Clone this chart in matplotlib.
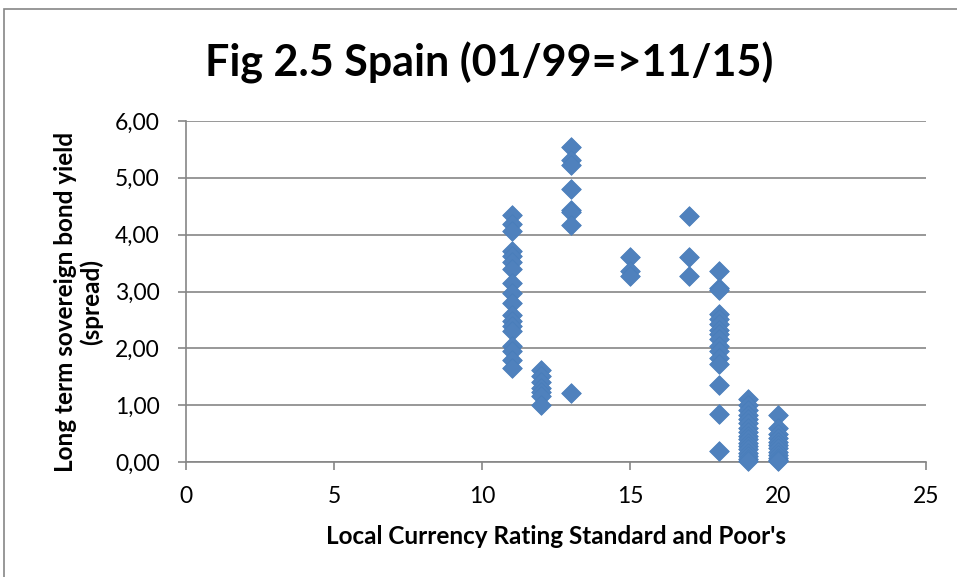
import matplotlib as mpl
import matplotlib.pyplot as plt
from matplotlib.patches import Rectangle

mpl.rcParams.update({
    "font.family": ["Lato", "DejaVu Sans"],
})

# rating (S&P local currency) -> spread values
R11 = [4.35, 4.18, 4.07, 3.72, 3.63, 3.52, 3.39, 3.15, 2.98, 2.80,
       2.58, 2.48, 2.39, 2.30, 2.04, 1.95, 1.80, 1.66]
R12 = [1.62, 1.51, 1.40, 1.31, 1.23, 1.16, 1.00]
R13 = [5.55, 5.31, 5.22, 4.80, 4.44, 4.40, 4.17, 1.21]
R15 = [3.60, 3.36, 3.27]
R17 = [4.33, 3.60, 3.27]
R18 = [3.36, 3.07, 3.03, 2.60, 2.51, 2.42, 2.33, 2.25, 2.16, 2.04,
       1.95, 1.83, 1.72, 1.36, 0.84, 0.19]
R19 = [1.10, 1.00, 0.92, 0.82, 0.75, 0.69, 0.60, 0.52, 0.45, 0.40,
       0.34, 0.28, 0.22, 0.16, 0.10, 0.05, 0.02]
R20 = [0.82, 0.60, 0.50, 0.42, 0.35, 0.30, 0.24, 0.18, 0.12, 0.07,
       0.03, 0.01]
RATINGS = [11, 12, 13, 15, 17, 18, 19, 20]
SPREADS = [R11, R12, R13, R15, R17, R18, R19, R20]

xs, ys = [], []
for r, vals in zip(RATINGS, SPREADS):
    xs += [r] * len(vals)
    ys += vals

fig = plt.figure(figsize=(9.57, 5.77), dpi=100)
ax = fig.add_axes([186 / 957, 1 - 462 / 577, 740 / 957, 341 / 577])

# outer chart frame (Excel style)
fig.patches.append(Rectangle((4 / 957, -0.1), 1.2, 1 - 9 / 577 + 0.1,
                             transform=fig.transFigure, fill=False,
                             ec="#868686", lw=1.2))

ax.scatter(xs, ys, marker="D", s=100, color="#4F81BD", edgecolor="#4A7EBB",
           linewidth=0.6, zorder=3, clip_on=False)

ax.set_xlim(0, 25)
ax.set_ylim(0, 6)
ax.set_xticks(range(0, 26, 5))
ax.set_yticks(range(0, 7))
ax.set_yticklabels([f"{v:.2f}".replace(".", ",") for v in range(0, 7)])
ax.grid(axis="y", color="#868686", lw=1.2, zorder=0)
ax.set_axisbelow(True)
for s in ("top", "right"):
    ax.spines[s].set_visible(False)
for s in ("left", "bottom"):
    ax.spines[s].set_color("#868686")
    ax.spines[s].set_linewidth(1.2)
ax.tick_params(axis="y", direction="out", length=6, color="#868686",
               width=1.2, labelsize=16.5, pad=13)
ax.tick_params(axis="x", direction="out", length=6, color="#868686",
               width=1.2, labelsize=16.5, pad=11)

ax.set_xlabel("Local Currency Rating Standard and Poor's", fontsize=17.5,
              fontweight="bold", labelpad=13)
ax.set_ylabel("Long term sovereign bond yield\n(spread)", fontsize=17.5,
              fontweight="bold", linespacing=1.15)
ax.yaxis.set_label_coords(-0.112, 0.47)

fig.text(489 / 957, 1 - 63 / 577, "Fig 2.5 Spain (01/99=>11/15)", ha="center",
         va="center", fontsize=31, fontweight="bold")

fig.savefig("out.png", dpi=100)
